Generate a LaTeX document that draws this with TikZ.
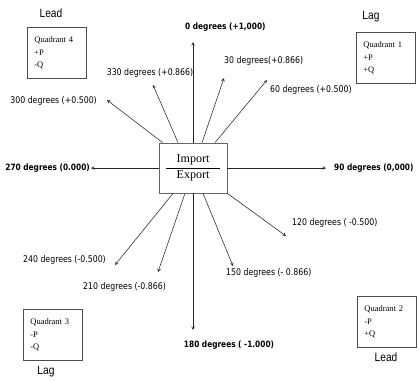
\documentclass[tikz,border=0pt]{standalone}
\usepackage{fontspec}
\setmainfont{Liberation Serif}
\newfontfamily\lblfont{DejaVu Sans}[FakeStretch=0.85]
\newfontfamily\hdfont{Liberation Sans}[FakeStretch=0.85]
\usepackage{tikz}
\setlength\arrayrulewidth{0.8pt}

\begin{document}
\begin{tikzpicture}[x=1pt, y=-1pt,
        freccia/.style={->, >=stealth, line width=0.55pt, draw=black!85},
        gradi/.style={font=\lblfont\fontsize{9.2}{10}\selectfont, inner sep=1pt},
        gradib/.style={font=\lblfont\fontsize{8.7}{10}\selectfont\bfseries, inner sep=1pt},
        quadrante/.style={draw=black!70, line width=0.8pt, align=left, text width=45pt, inner xsep=7pt, minimum height=51pt, font=\fontsize{8.5}{12.5}\selectfont, anchor=north west},
        titolo/.style={font=\hdfont\fontsize{12}{12}\selectfont, inner sep=0pt}]
    \useasboundingbox (0,0) rectangle (419,380);

    % Riquadro centrale
    \node[draw=black!60, line width=0.8pt, minimum width=68pt, minimum height=50pt, inner sep=0pt] (io) at (193,168)
        {\fontsize{12}{14}\selectfont\begin{tabular}{@{\hspace{11pt}}c@{\hspace{11pt}}}Import\\[1pt]\hline Export\end{tabular}};

    % Punte delle frecce
    \coordinate (t0) at (193,42);
    \coordinate (t330) at (153,85);
    \coordinate (t30) at (224,78);
    \coordinate (t60) at (267,80);
    \coordinate (t300) at (107,100);
    \coordinate (t270) at (91,168);
    \coordinate (t90) at (326,168);
    \coordinate (t120) at (286,236);
    \coordinate (t150) at (233,266);
    \coordinate (t180) at (193,330);
    \coordinate (t210) at (158,272);
    \coordinate (t240) at (115,265);

    \draw[freccia] (io.north) -- (t0);
    \draw[freccia] ([xshift=-15pt]io.north) -- (t330);
    \draw[freccia] ([xshift=9pt]io.north) -- (t30);
    \draw[freccia] ([xshift=22pt]io.north) -- (t60);
    \draw[freccia] ([xshift=4pt]io.north west) -- (t300);
    \draw[freccia] (io.west) -- (t270);
    \draw[freccia] (io.east) -- (t90);
    \draw[freccia] (io.south east) -- (t120);
    \draw[freccia] ([xshift=10pt]io.south) -- (t150);
    \draw[freccia] (io.south) -- (t180);
    \draw[freccia] ([xshift=-8pt]io.south) -- (t210);
    \draw[freccia] ([xshift=-20pt]io.south) -- (t240);

    \node[gradib, anchor=west] (l0) at (184,27) {0 degrees (+1,000)};
    \node[gradi] (l330) at (150,73) {330 degrees (+0.866)};
    \node[gradi, anchor=west] (l30) at (223,61) {30 degrees(+0.866)};
    \node[gradi, anchor=west] (l60) at (269,90) {60 degrees (+0.500)};
    \node[gradi, anchor=east] (l300) at (98,101) {300 degrees (+0.500)};
    \node[gradib, anchor=east] (l270) at (t270) {270 degrees (0.000)};
    \node[gradib, anchor=west] (l90) at (333,168) {90 degrees (0,000)};
    \node[gradi, anchor=west] (l120) at (291,223) {120 degrees ( -0.500)};
    \node[gradi, anchor=west] (l150) at (225,273) {150 degrees (- 0.866)};
    \node[gradib] (l180) at (229,345) {180 degrees ( -1.000)};
    \node[gradi, anchor=west] (l210) at (82,287) {210 degrees (-0.866)};
    \node[gradi, anchor=east] (l240) at (107,260) {240 degrees (-0.500)};

    % Quadranti
    \node[quadrante] (q4) at (27,27) {Quadrant 4\\+P\\-Q};
    \node[quadrante] (q1) at (356,32) {Quadrant 1\\+P\\+Q};
    \node[quadrante] (q3) at (23,309) {Quadrant 3\\-P\\-Q};
    \node[quadrante] (q2) at (357,296) {Quadrant 2\\-P\\+Q};

    \node[titolo] (lead4) at (51,13) {Lead};
    \node[titolo] (lag1) at (371,17) {Lag};
    \node[titolo] (lag3) at (46,372) {Lag};
    \node[titolo] (lead2) at (386,357) {Lead};
\end{tikzpicture}
\end{document}
